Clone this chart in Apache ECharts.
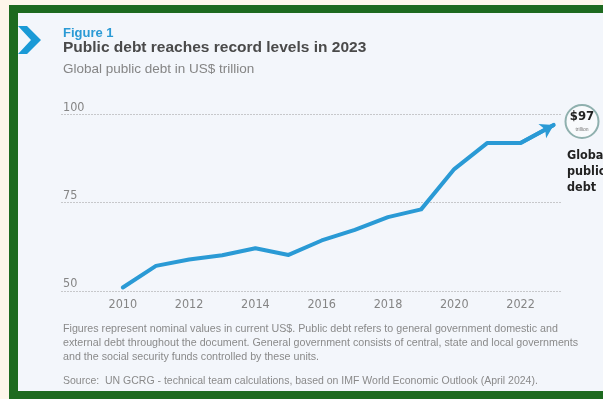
<!DOCTYPE html>
<html>
<head>
<meta charset="utf-8">
<script src="https://cdn.jsdelivr.net/npm/echarts@6/dist/echarts.min.js"></script>
<style>
html,body{margin:0;padding:0;background:#fdf6ea;}
#frame{position:absolute;left:9px;top:5px;width:594px;height:394px;background:#1d6a1f;}
#panel{position:absolute;left:18px;top:13px;width:585px;height:378px;background:#f3f6fb;}
#chart{position:absolute;left:0;top:0;width:603px;height:399px;}
</style>
</head>
<body>
<div id="frame"></div>
<div id="panel"></div>
<div id="chart"></div>
<script>
const years = [2010, 2011, 2012, 2013, 2014, 2015, 2016, 2017, 2018, 2019, 2020, 2021, 2022, 2023];
const debt = [51.0, 57.1, 58.9, 60.1, 62.1, 60.2, 64.3, 67.3, 70.9, 73.1, 84.5, 91.9, 91.9, 97.0];
const xTickLabels = [2010, 2012, 2014, 2016, 2018, 2020, 2022];
const yTicks = [50, 75, 100];
const footnotes = [
  'Figures represent nominal values in current US$. Public debt refers to general government domestic and',
  'external debt throughout the document. General government consists of central, state and local governments',
  'and the social security funds controlled by these units.'
];
const sourceText = 'Source:  UN GCRG - technical team calculations, based on IMF World Economic Outlook (April 2024).';

const narrow = "'Liberation Sans Narrow', 'DejaVu Sans Condensed', 'Liberation Sans', sans-serif";
const sans = "'Liberation Sans', Arial, sans-serif";
const blue = '#2a9ad5';

const chart = echarts.init(document.getElementById('chart'), null, {renderer: 'canvas'});
const n = years.length;
chart.setOption({
  backgroundColor: 'transparent',
  animation: false,
  grid: {left: 61.5, right: 41, top: 114.3, bottom: 108},
  xAxis: {
    type: 'value', min: 2008.15, max: 2023.25,
    axisLine: {show: false}, axisTick: {show: false}, splitLine: {show: false},
    axisLabel: {customValues: xTickLabels, color: '#858585', fontFamily: narrow, fontSize: 12.5, margin: 7,
      formatter: v => String(v)}
  },
  yAxis: {
    type: 'value', min: yTicks[0], max: yTicks[yTicks.length - 1], interval: 25,
    axisLine: {show: false}, axisTick: {show: false},
    splitLine: {show: true, lineStyle: {color: '#9a9a9a', type: [1, 2], width: 1}},
    axisLabel: {inside: true, margin: 1.5, verticalAlign: 'bottom', padding: [0, 0, 0.5, 0],
      color: '#858585', fontFamily: narrow, fontSize: 12.5}
  },
  series: [{
    type: 'line',
    data: years.map((y, i) => [y, debt[i]]),
    symbol: 'none',
    lineStyle: {color: blue, width: 4, join: 'round', cap: 'round'},
    markLine: {
      silent: true,
      symbol: ['none', 'arrow'],
      symbolSize: [12, 13],
      label: {show: false},
      lineStyle: {color: blue, width: 4, type: 'solid'},
      data: [[{coord: [years[n - 2], debt[n - 2]]}, {coord: [years[n - 1], debt[n - 1]]}]]
    }
  }],
  graphic: [
    {type: 'polygon', shape: {points: [[18, 26], [27, 26], [41, 40], [27, 54], [18, 54], [31, 40]]}, style: {fill: '#1a9ad6'}},
    {type: 'text', left: 63, top: 27, style: {text: 'Figure 1', fill: blue, font: "bold 13px " + sans}},
    {type: 'text', left: 63, top: 40, style: {text: 'Public debt reaches record levels in 2023', fill: '#4a4a4a', font: "bold 15.5px " + sans}},
    {type: 'text', left: 63, top: 62, style: {text: 'Global public debt in US$ trillion', fill: '#858585', font: "13.5px " + sans}},
    {type: 'circle', shape: {cx: 582, cy: 121.5, r: 16.5}, style: {fill: '#f8fafc', stroke: '#8fb0ae', lineWidth: 2}},
    {type: 'text', x: 582, y: 117, style: {text: '$97', fill: '#222', font: "bold 13px " + narrow, align: 'center', verticalAlign: 'middle'}},
    {type: 'text', x: 582, y: 129.5, style: {text: 'trillion', fill: '#777', font: "5px " + sans, align: 'center', verticalAlign: 'middle'}},
    {type: 'text', x: 567, y: 156, style: {text: 'Global', fill: '#222', font: "bold 12.5px " + narrow, verticalAlign: 'middle'}},
    {type: 'text', x: 567, y: 172, style: {text: 'public', fill: '#222', font: "bold 12.5px " + narrow, verticalAlign: 'middle'}},
    {type: 'text', x: 567, y: 188, style: {text: 'debt', fill: '#222', font: "bold 12.5px " + narrow, verticalAlign: 'middle'}},
    {type: 'text', x: 63, y: 329, style: {text: footnotes[0], fill: '#8a8a8a', font: "10.7px " + sans, verticalAlign: 'middle'}},
    {type: 'text', x: 63, y: 343, style: {text: footnotes[1], fill: '#8a8a8a', font: "10.7px " + sans, verticalAlign: 'middle'}},
    {type: 'text', x: 63, y: 357, style: {text: footnotes[2], fill: '#8a8a8a', font: "10.7px " + sans, verticalAlign: 'middle'}},
    {type: 'text', x: 63, y: 381, style: {text: sourceText, fill: '#8a8a8a', font: "10.5px " + sans, verticalAlign: 'middle'}}
  ]
});
</script>
</body>
</html>
